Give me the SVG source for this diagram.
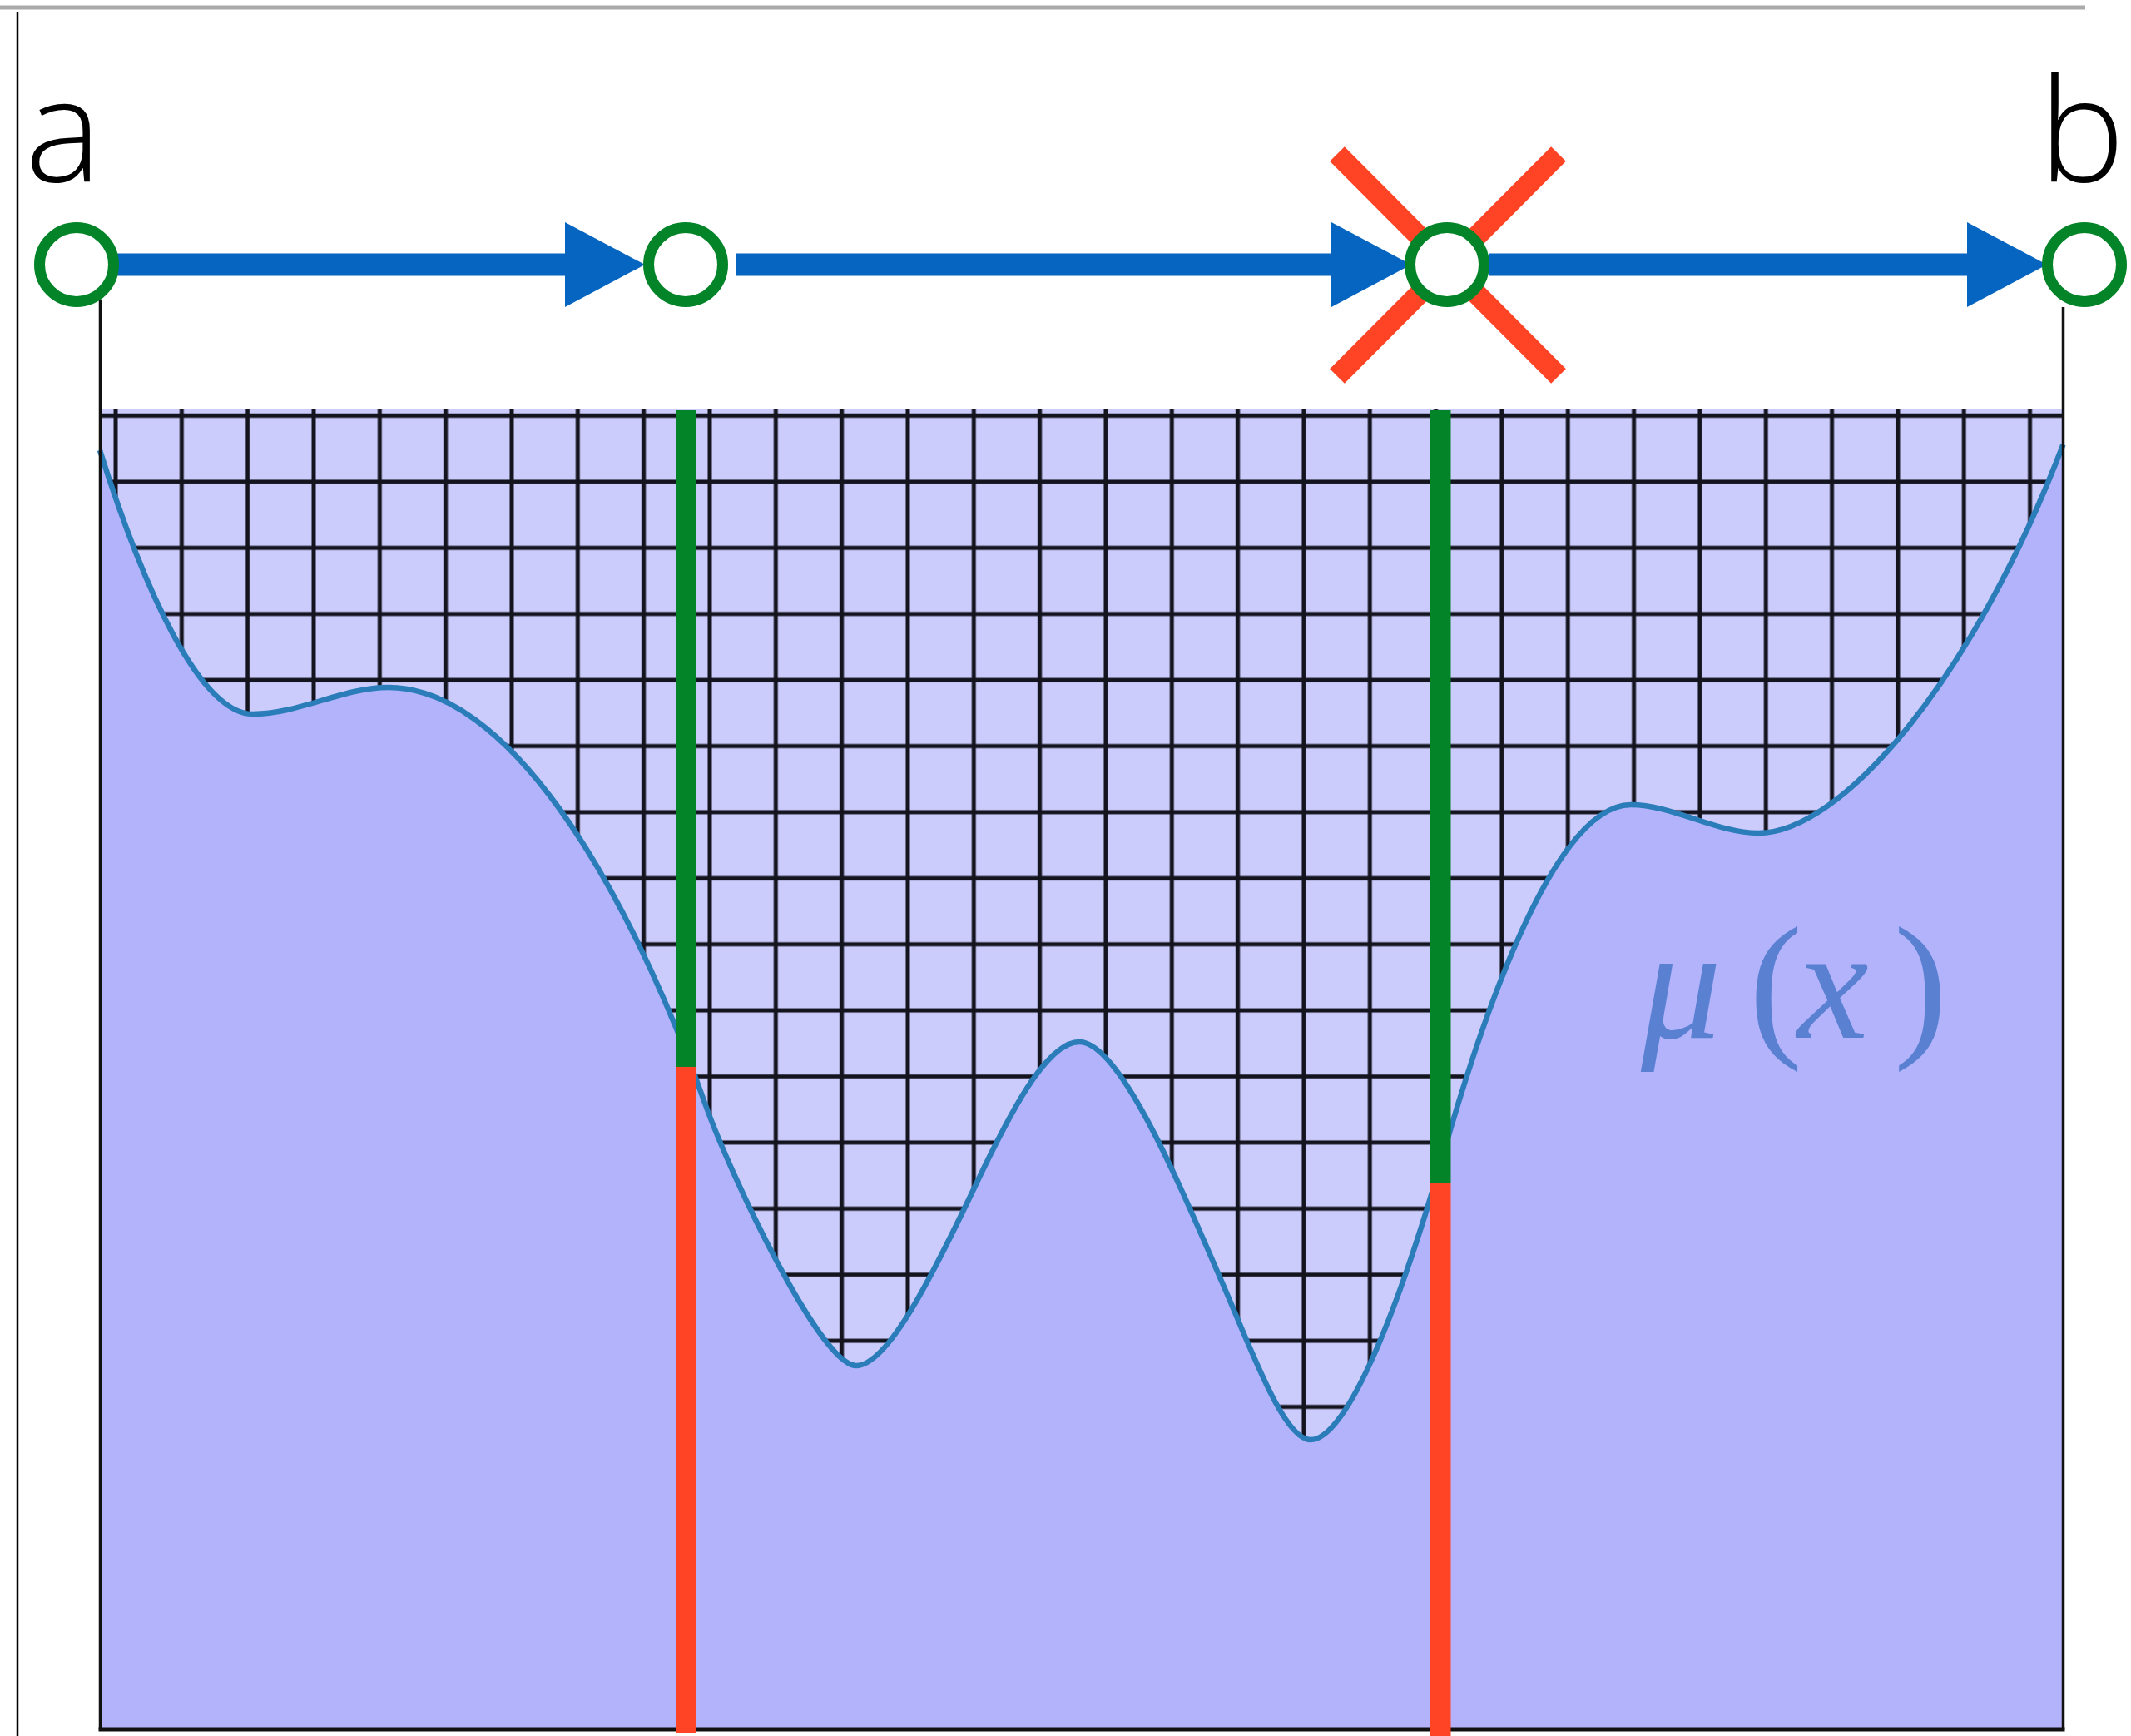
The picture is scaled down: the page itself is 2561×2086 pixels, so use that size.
<svg xmlns="http://www.w3.org/2000/svg" width="2561" height="2086" viewBox="0 0 2561 2086">
  <style>
    .frame { stroke: #111111; stroke-width: 3.5; fill: none; }
    .node { fill: #ffffff; stroke: #038429; stroke-width: 13; }
    .conn { stroke: #0565C0; stroke-width: 27; fill: none; marker-end: url(#head); }
    .cross { stroke: #FF4426; stroke-width: 25; stroke-linecap: butt; }
    .ok { stroke: #038429; stroke-width: 25; }
    .bad { stroke: #FF4426; stroke-width: 25; }
    .label { font-family: "Open Sans", "Lato", "Liberation Sans", sans-serif; font-weight: 300; font-size: 174px; fill: #000000; }
    .math { font-family: "Liberation Serif", "DejaVu Serif", serif; font-size: 193px; fill: #5A80D2; }
  </style>
  <defs>
    <marker id="head" markerUnits="userSpaceOnUse" markerWidth="100" markerHeight="104" refX="0" refY="51" orient="auto" overflow="visible">
      <path d="M0,0 L96,51 L0,102 Z" fill="#0565C0"/>
    </marker>
    <pattern id="grid" patternUnits="userSpaceOnUse" x="99.33" y="459.8" width="79.33" height="79.4">
      <line x1="39.67" y1="0" x2="39.67" y2="79.4" stroke="#14141f" stroke-width="5"/>
      <line x1="0" y1="39.7" x2="79.33" y2="39.7" stroke="#14141f" stroke-width="5"/>
    </pattern>
  </defs>

  <rect x="0" y="0" width="2561" height="2086" fill="#ffffff"/>

  <!-- page rules -->
  <line x1="0" y1="9" x2="2506" y2="9" stroke="#AAAAAA" stroke-width="5"/>
  <line x1="21" y1="14" x2="21" y2="2086" stroke="#000000" stroke-width="2.5"/>

  <!-- plot area -->
  <g id="plot">
    <rect x="120.5" y="492" width="2359" height="1586" fill="#CCCCFC"/>
    <rect x="120.5" y="492" width="2359" height="1586" fill="url(#grid)"/>
    <path id="mu-fill" fill="#B3B3FC" stroke="none" d="M120,541 C172,706 240,858 304,858 C359,858 412,826 467,826 C607,826 748,1048 848,1328 C878,1412 986,1641 1029,1641 C1067,1641 1122,1530 1172,1425 C1212,1341 1257,1252 1297,1252 C1347,1252 1420,1429 1470,1544 C1505,1624.5 1543,1730 1575,1730 C1615,1730 1675,1595 1735,1385 C1785,1210 1870,967 1960,967 C2010,967 2063,1001 2113,1001 C2213,1001 2371,817 2479.5,534 L2479.5,2078 L120,2078 Z"/>
    <path id="mu-curve" fill="none" stroke="#2A7DB8" stroke-width="6.5" d="M120,541 C172,706 240,858 304,858 C359,858 412,826 467,826 C607,826 748,1048 848,1328 C878,1412 986,1641 1029,1641 C1067,1641 1122,1530 1172,1425 C1212,1341 1257,1252 1297,1252 C1347,1252 1420,1429 1470,1544 C1505,1624.5 1543,1730 1575,1730 C1615,1730 1675,1595 1735,1385 C1785,1210 1870,967 1960,967 C2010,967 2063,1001 2113,1001 C2213,1001 2371,817 2479.5,534"/>
    <path class="frame" d="M120.5,361 L120.5,2078 M2479.5,369 L2479.5,2078"/>
    <line x1="118.5" y1="2078" x2="2481.5" y2="2078" stroke="#111111" stroke-width="5"/>
    <text class="math" x="1972" y="1247"><tspan font-style="italic">μ</tspan><tspan x="2102">(</tspan><tspan x="2160" font-style="italic">x</tspan><tspan x="2276">)</tspan></text>
  </g>

  <!-- sample columns -->
  <g id="column-1">
    <line class="ok" x1="824.5" y1="493" x2="824.5" y2="1282"/>
    <line class="bad" x1="824.5" y1="1282" x2="824.5" y2="2082"/>
  </g>
  <g id="column-2">
    <line class="ok" x1="1731" y1="493" x2="1731" y2="1421"/>
    <line class="bad" x1="1731" y1="1421" x2="1731" y2="2086"/>
  </g>

  <!-- connectors -->
  <g id="connectors">
    <path class="conn" d="M132,318 L679,318"/>
    <path class="conn" d="M885,318 L1600,318"/>
    <path class="conn" d="M1790,318 L2364,318"/>
  </g>

  <g id="reject-mark">
    <line class="cross" x1="1607" y1="185" x2="1873" y2="452"/>
    <line class="cross" x1="1873" y1="185" x2="1607" y2="452"/>
  </g>

  <g id="node-a">
    <circle class="node" cx="92" cy="318" r="44.5"/>
    <text class="label" x="30" y="218">a</text>
  </g>
  <g id="node-2">
    <circle class="node" cx="824" cy="318" r="44.5"/>
  </g>
  <g id="node-3">
    <circle class="node" cx="1739" cy="318" r="44.5"/>
  </g>
  <g id="node-b">
    <circle class="node" cx="2505" cy="318" r="44.5"/>
    <text class="label" x="2450" y="218">b</text>
  </g>
</svg>
